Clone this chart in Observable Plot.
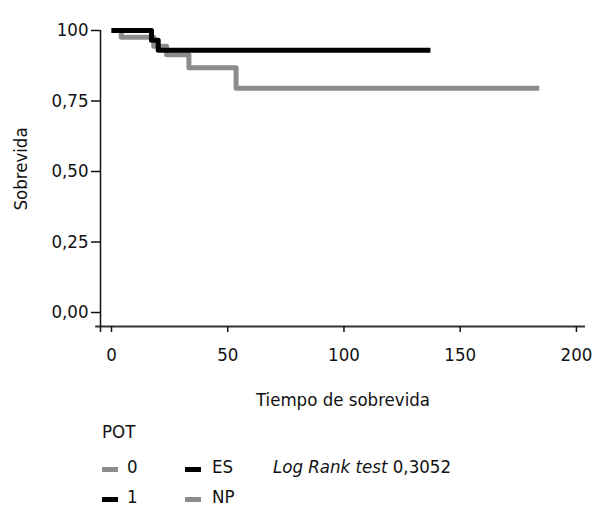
<!DOCTYPE html>
<html>
<head>
<meta charset="utf-8">
<script src="https://cdn.jsdelivr.net/npm/d3@7"></script>
<script src="https://cdn.jsdelivr.net/npm/@observablehq/plot@0.6"></script>
<style>
  html, body { margin: 0; padding: 0; background: #fff; }
  #wrap { position: relative; width: 593px; height: 506px; overflow: hidden;
    font-family: 'Liberation Sans Narrow', 'DejaVu Sans Condensed', sans-serif; color: #111; }
  .lg { position: absolute; font-size: 18.5px; line-height: 19px; white-space: nowrap; }
  .sw { position: absolute; width: 16px; height: 5px; }
  #ylab { position: absolute; font-size: 18.5px; line-height: 19px; white-space: nowrap;
    left: 20px; top: 169px; transform: translate(-50%, -50%) rotate(-90deg); }
</style>
</head>
<body>
<div id="wrap"></div>
<script>
// Data
const timesES = [0, 17.2, 20.1, 137.2];
const survES  = [1, 0.965, 0.930, 0.930];
const timesNP = [0, 4.2, 18.2, 23.7, 33.3, 53.6, 184];
const survNP  = [1, 0.976, 0.944, 0.914, 0.868, 0.795, 0.795];
const xTicks = [0, 50, 100, 150, 200];
const yTicks = [0, 0.25, 0.5, 0.75, 1];
const yTickLabels = ["0,00", "0,25", "0,50", "0,75", "100"];
const groups = ["ES", "NP"];
const legendPOT = ["0", "1"];

const gray = "#8c8c8c";
const xMin = -4.73, xMax = 203.9;
const yMin = -0.0496, yMax = 1;

const dataES = timesES.map((t, i) => ({t, s: survES[i], g: "ES"}));
const dataNP = timesNP.map((t, i) => ({t, s: survNP[i], g: "NP"}));

const chart = Plot.plot({
  width: 593,
  height: 415,
  marginLeft: 100,
  marginRight: 8,
  marginTop: 30,
  marginBottom: 89,
  style: "font-family: 'Liberation Sans Narrow', 'DejaVu Sans Condensed', sans-serif; font-size: 18.5px; color: #111; background: #fff;",
  x: {domain: [xMin, xMax]},
  y: {domain: [yMin, yMax]},
  marks: [
    Plot.line(dataNP, {x: "t", y: "s", curve: "step-after", stroke: gray, strokeWidth: 5, strokeLinecap: "butt"}),
    Plot.line(dataES, {x: "t", y: "s", curve: "step-after", stroke: "#000", strokeWidth: 5, strokeLinecap: "butt"}),
    Plot.ruleY([yMin], {x1: -6.8, x2: xMax, stroke: "#333", strokeWidth: 2}),
    Plot.ruleX([xMin], {y1: yMin, y2: yMax, stroke: "#111", strokeWidth: 1.5}),
    Plot.axisX({ticks: [xMin, ...xTicks], tickFormat: d => d === xMin ? "" : String(d), tickSize: 6, tickPadding: 15, label: null, stroke: "#111", strokeWidth: 1.5}),
    Plot.axisY({ticks: yTicks, tickFormat: d => yTickLabels[yTicks.indexOf(d)], tickSize: 9, tickPadding: 3, label: null, stroke: "#111", strokeWidth: 1.5}),
    Plot.text(["Tiempo de sobrevida"], {frameAnchor: "bottom", dy: 79, fontSize: 18.5})
  ]
});
const wrap = document.getElementById("wrap");
wrap.appendChild(chart);

// Legend and y-axis title (HTML, around the SVG)
function add(html, left, top, cls, extra) {
  const d = document.createElement("div");
  d.className = cls;
  d.style.left = left + "px";
  d.style.top = top + "px";
  if (extra) Object.assign(d.style, extra);
  d.innerHTML = html;
  wrap.appendChild(d);
  return d;
}
const yl = document.createElement("div");
yl.id = "ylab"; yl.textContent = "Sobrevida"; wrap.appendChild(yl);

add("POT", 102, 422, "lg");
add("", 102, 467, "sw", {background: gray});
add(legendPOT[0], 127, 457, "lg");
add("", 102, 497, "sw", {background: "#000"});
add(legendPOT[1], 127, 487, "lg");
add("", 185, 467, "sw", {background: "#000"});
add(groups[0], 212, 457, "lg");
add("", 185, 497, "sw", {background: gray});
add(groups[1], 212, 487, "lg");
add("<i>Log Rank test</i> 0,3052", 273, 457, "lg");
</script>
</body>
</html>
